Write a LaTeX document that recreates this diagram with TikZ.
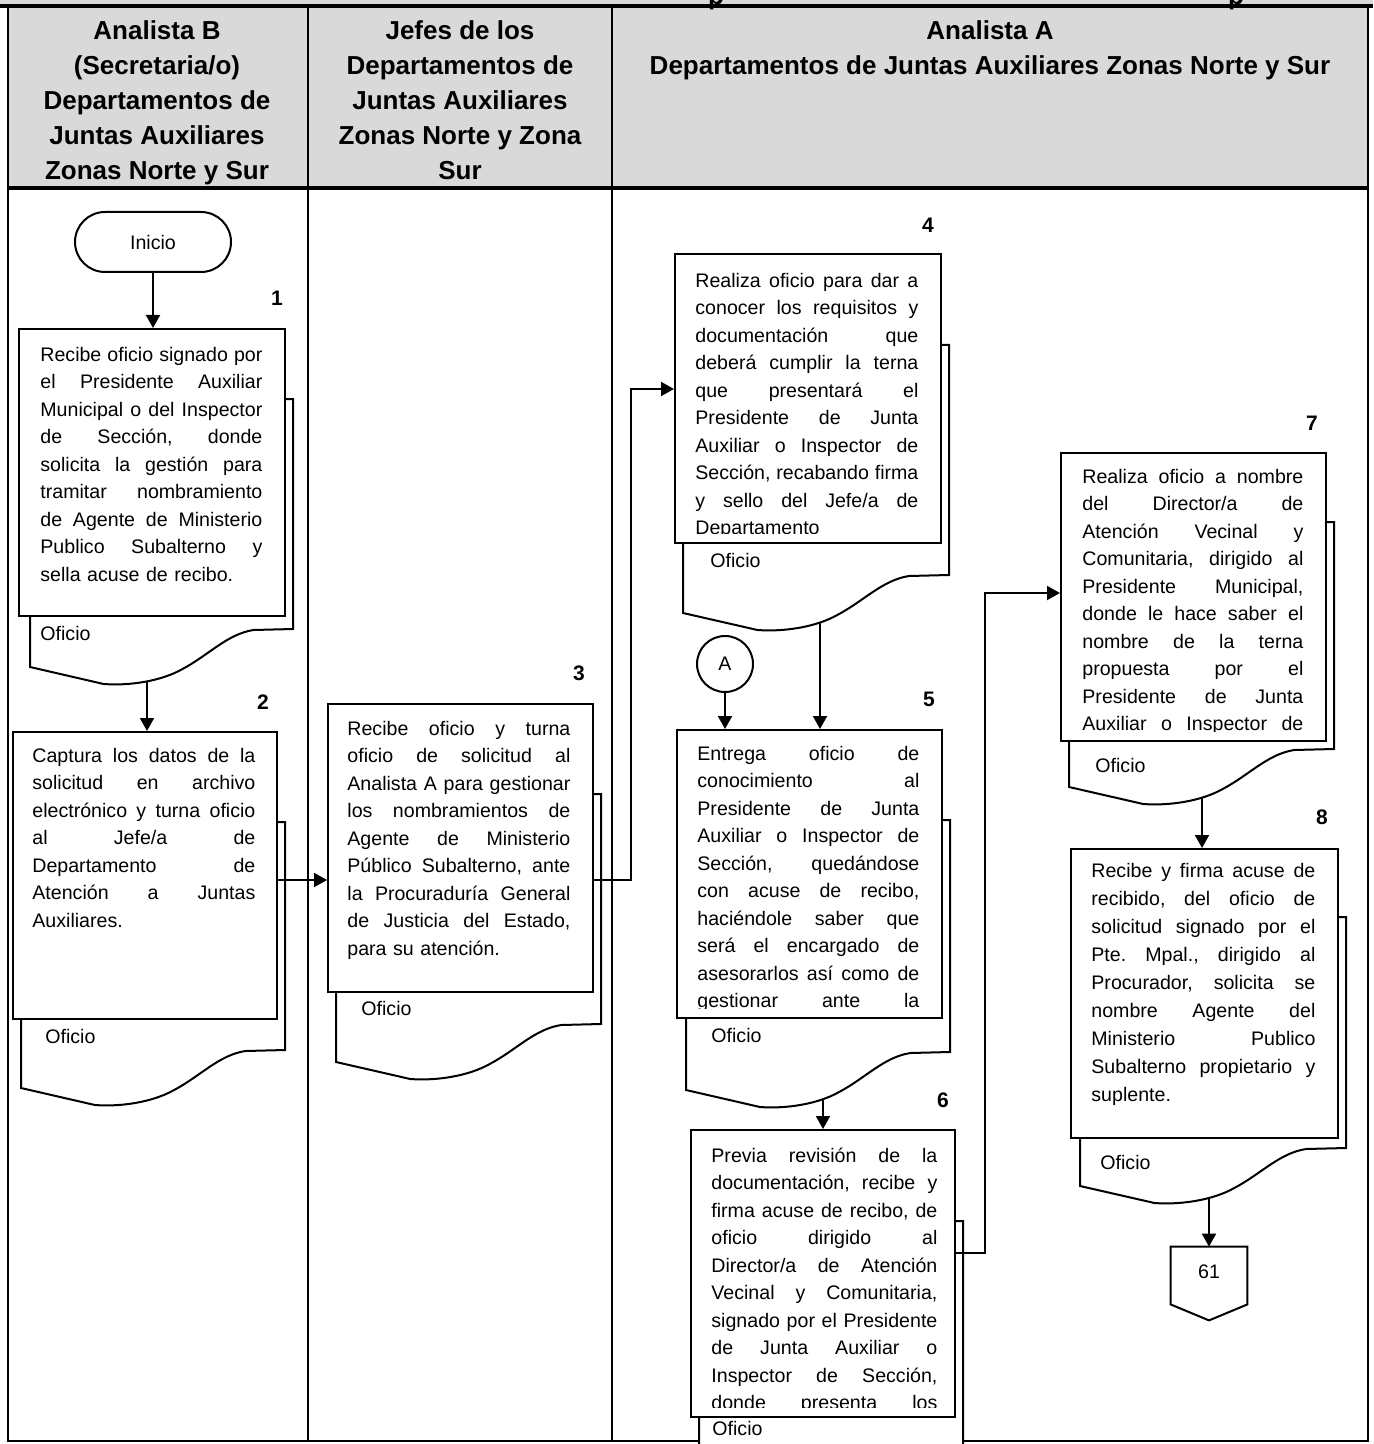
\documentclass[tikz,border=0pt]{standalone}
\usepackage{fontspec}
\setmainfont{Liberation Sans}
\usetikzlibrary{arrows.meta}
\definecolor{hdr}{RGB}{217,217,217}
\newcommand\jline[1]{\hbox to\hsize{\vrule height 9pt depth 2.5pt width 0pt\spaceskip=.278em plus 1fil minus .07em\relax #1}}
\newcommand\lline[1]{\hbox to\hsize{\vrule height 9pt depth 2.5pt width 0pt #1\hfil}}
\newcommand\frontrect[5]{\node[frontbox, minimum width={(#4-#2)*0.5pt}, minimum height={(#5-#3)*0.5pt}] (#1) at (#2,#3) {};}
\newcommand\backdoc[4]{\path[backdoc] (#1,#3) -- (#2,#3) -- (#2,{#4-38}) -- ({#2-0.15*(#2-#1)},{#4-37}) .. controls ({#2-0.25*(#2-#1)},{#4-33}) and ({#2-0.32*(#2-#1)},{#4-12}) .. ({#2-0.42*(#2-#1)},{#4+2}) .. controls ({#2-0.5*(#2-#1)},{#4+14}) and ({#2-0.62*(#2-#1)},{#4+19}) .. ({#2-0.72*(#2-#1)},{#4+17}) -- (#1,#4) -- cycle;}
\tikzset{
 frontbox/.style={draw, line width=1pt, fill=white, inner sep=0pt, anchor=north west},
 backdoc/.style={draw, line width=1pt, fill=white},
 txt/.style={inner sep=0pt, anchor=north west, font=\fontsize{9.8}{13.75}\selectfont\frenchspacing},
 num/.style={font=\bfseries\fontsize{10.5}{12}\selectfont, inner sep=0pt},
 lbl/.style={font=\fontsize{9.8}{12}\selectfont, inner sep=0pt, anchor=west},
 arr/.style={line width=1pt, -{Triangle[length=6.5pt,width=7pt]}},
 hd/.style={font=\bfseries\fontsize{13}{17.5}\selectfont, align=center, inner sep=0pt, anchor=north},
 lane/.style={line width=1pt},
 term/.style={draw, line width=1pt, fill=white, rounded corners=15pt, minimum width=78pt, minimum height=30pt, inner sep=0pt, font=\fontsize{9.8}{12}\selectfont},
 conn/.style={draw, circle, line width=1pt, fill=white, minimum size=28pt, inner sep=0pt, font=\fontsize{9.8}{12}\selectfont},
 ttl/.style={font=\bfseries\fontsize{13}{15}\selectfont, inner sep=0pt, anchor=base},
}
\begin{document}
\begin{tikzpicture}[x=0.5pt,y=-0.5pt]
\useasboundingbox (0,0) rectangle (1373,1444);
% header
\fill[hdr] (0,0) rectangle (1373,6);
\fill[hdr] (8,6) rectangle (1368,188);
\node[ttl] (tp1) at (716,5) {p};
\node[ttl] (tp2) at (1236,5) {p};
\draw[line width=2pt] (0,6) -- (1373,6);
\draw[line width=2pt] (8,188) -- (1368,188);
\draw[line width=1.2pt] (8,6) -- (8,1441) -- (1368,1441) -- (1368,6);
\draw[lane] (308,6) -- (308,1441);
\draw[lane] (612,6) -- (612,1441);
\node[hd] (h1) at (157,20) {Analista B\\(Secretaria/o)\\Departamentos de\\Juntas Auxiliares\\Zonas Norte y Sur};
\node[hd] (h2) at (460,20) {Jefes de los\\Departamentos de\\Juntas Auxiliares\\Zonas Norte y Zona\\Sur};
\node[hd] (h3) at (990,20) {Analista A\\Departamentos de Juntas Auxiliares Zonas Norte y Sur};

% coordinates inside documents (start of downward connectors)
\coordinate (d1) at (147,660);
\coordinate (d4) at (820,600);
\coordinate (d5) at (823,1070);
\coordinate (d7) at (1202,780);
\coordinate (d8) at (1209,1175);

% nodes needed by connectors drawn first
\frontrect{b2}{12}{731}{276}{1018}
\frontrect{b5}{676}{729}{941}{1017}
\frontrect{b6}{690}{1129}{954}{1416}
\frontrect{b8}{1070}{848}{1337}{1137}
\node[minimum width=38pt, minimum height=28.5pt, inner sep=0pt] (off) at (1209,1275.5) {};

\draw[arr] (d1) -- (d1 |- b2.north);
\draw[arr] (d4) -- (d4 |- b5.north);
\draw[arr] (d5) -- (d5 |- b6.north);
\draw[arr] (d7) -- (d7 |- b8.north);
\draw[arr] (d8) -- (off.north);

% documents
\backdoc{30}{293}{399}{667}
\frontrect{b1}{18}{328}{284}{615}
\node[txt, text width=111pt] (t1) at (40,343) {%
\jline{Recibe oficio signado por}
\jline{el Presidente Auxiliar}
\jline{Municipal o del Inspector}
\jline{de Sección, donde}
\jline{solicita la gestión para}
\jline{tramitar nombramiento}
\jline{de Agente de Ministerio}
\jline{Publico Subalterno y}
\lline{sella acuse de recibo.}};
\node[lbl] (o1) at (40,633) {Oficio};

\backdoc{21}{285}{822}{1088}
\frontrect{b2}{12}{731}{276}{1018}
\node[txt, text width=111.5pt] (t2) at (32,744) {%
\jline{Captura los datos de la}
\jline{solicitud en archivo}
\jline{electrónico y turna oficio}
\jline{al Jefe/a de}
\jline{Departamento de}
\jline{Atención a Juntas}
\lline{Auxiliares.}};
\node[lbl] (o2) at (45,1036) {Oficio};

\backdoc{336}{601}{794}{1062}
\frontrect{b3}{327}{703}{592}{991}
\node[txt, text width=111.5pt] (t3) at (347,717) {%
\jline{Recibe oficio y turna}
\jline{oficio de solicitud al}
\jline{Analista A para gestionar}
\jline{los nombramientos de}
\jline{Agente de Ministerio}
\jline{Público Subalterno, ante}
\jline{la Procuraduría General}
\jline{de Justicia del Estado,}
\lline{para su atención.}};
\node[lbl] (o3) at (361,1008) {Oficio};

\backdoc{683}{949}{345}{613}
\frontrect{b4}{674}{253}{940}{542}
\begin{scope}
\clip (b4.north west) rectangle ([yshift=5.5pt]b4.south east);
\node[txt, text width=111.5pt] (t4) at (695,269) {%
\jline{Realiza oficio para dar a}
\jline{conocer los requisitos y}
\jline{documentación que}
\jline{deberá cumplir la terna}
\jline{que presentará el}
\jline{Presidente de Junta}
\jline{Auxiliar o Inspector de}
\jline{Sección, recabando firma}
\jline{y sello del Jefe/a de}
\lline{Departamento}};
\end{scope}
\node[lbl] (o4) at (710,560) {Oficio};

\backdoc{686}{950}{820}{1090}
\frontrect{b5}{676}{729}{941}{1017}
\begin{scope}
\clip (b5.north west) rectangle ([yshift=5.5pt]b5.south east);
\node[txt, text width=111pt] (t5) at (697,742) {%
\jline{Entrega oficio de}
\jline{conocimiento al}
\jline{Presidente de Junta}
\jline{Auxiliar o Inspector de}
\jline{Sección, quedándose}
\jline{con acuse de recibo,}
\jline{haciéndole saber que}
\jline{será el encargado de}
\jline{asesorarlos así como de}
\jline{gestionar ante la}};
\end{scope}
\node[lbl] (o5) at (711,1035) {Oficio};

\backdoc{699}{963}{1221}{1500}
\frontrect{b6}{690}{1129}{954}{1416}
\begin{scope}
\clip (b6.north west) rectangle ([yshift=5.5pt]b6.south east);
\node[txt, text width=113pt] (t6) at (711,1144) {%
\jline{Previa revisión de la}
\jline{documentación, recibe y}
\jline{firma acuse de recibo, de}
\jline{oficio dirigido al}
\jline{Director/a de Atención}
\jline{Vecinal y Comunitaria,}
\jline{signado por el Presidente}
\jline{de Junta Auxiliar o}
\jline{Inspector de Sección,}
\jline{donde presenta los}};
\end{scope}
\node[lbl] (o6) at (712,1428) {Oficio};

\backdoc{1069}{1334}{522}{787}
\frontrect{b7}{1060}{452}{1325}{740}
\begin{scope}
\clip (b7.north west) rectangle ([yshift=5.5pt]b7.south east);
\node[txt, text width=110.5pt] (t7) at (1082,465) {%
\jline{Realiza oficio a nombre}
\jline{del Director/a de}
\jline{Atención Vecinal y}
\jline{Comunitaria, dirigido al}
\jline{Presidente Municipal,}
\jline{donde le hace saber el}
\jline{nombre de la terna}
\jline{propuesta por el}
\jline{Presidente de Junta}
\jline{Auxiliar o Inspector de}};
\end{scope}
\node[lbl] (o7) at (1095,765) {Oficio};

\backdoc{1080}{1346}{917}{1186}
\frontrect{b8}{1070}{848}{1337}{1137}
\node[txt, text width=112pt, font=\fontsize{9.8}{14}\selectfont\frenchspacing] (t8) at (1091,859) {%
\jline{Recibe y firma acuse de}
\jline{recibido, del oficio de}
\jline{solicitud signado por el}
\jline{Pte. Mpal., dirigido al}
\kern3.5pt
\jline{Procurador, solicita se}
\jline{nombre Agente del}
\jline{Ministerio Publico}
\jline{Subalterno propietario y}
\lline{suplente.}};
\node[lbl] (o8) at (1100,1162) {Oficio};

% terminator, connector, off-page
\node[term] (ini) at (153,242) {Inicio};
\node[conn] (ca) at (725,664) {A};
\draw[line width=1pt, fill=white] (off.north west) -- (off.north east) -- (off.south east) -- ([yshift=-8pt]off.south) -- (off.south west) -- cycle;
\node[font=\fontsize{9.8}{12}\selectfont, inner sep=0pt] (n61) at (1209,1272) {61};

% step numbers
\node[num] (n1) at (277,298) {1};
\node[num] (n2) at (263,702) {2};
\node[num] (n3) at (579,673) {3};
\node[num] (n4) at (928,225) {4};
\node[num] (n5) at (929,699) {5};
\node[num] (n6) at (943,1100) {6};
\node[num] (n7) at (1312,423) {7};
\node[num] (n8) at (1322,817) {8};

% connectors on top
\coordinate (c23) at (300,880);
\coordinate (k34) at (631,389);
\coordinate (c67) at (0,1253);
\coordinate (k67) at (985,593);
\draw[arr] (ini) -- (ini |- b1.north);
\draw[arr] (ca) -- (ca |- b5.north);
\draw[arr] (c23 -| b2.east) -- (c23 -| b3.west);
\draw[arr] (c23 -| b3.east) -| (k34) -- (k34 -| b4.west);
\draw[arr] (c67 -| b6.east) -| (k67) -- (k67 -| b7.west);
\end{tikzpicture}
\end{document}
